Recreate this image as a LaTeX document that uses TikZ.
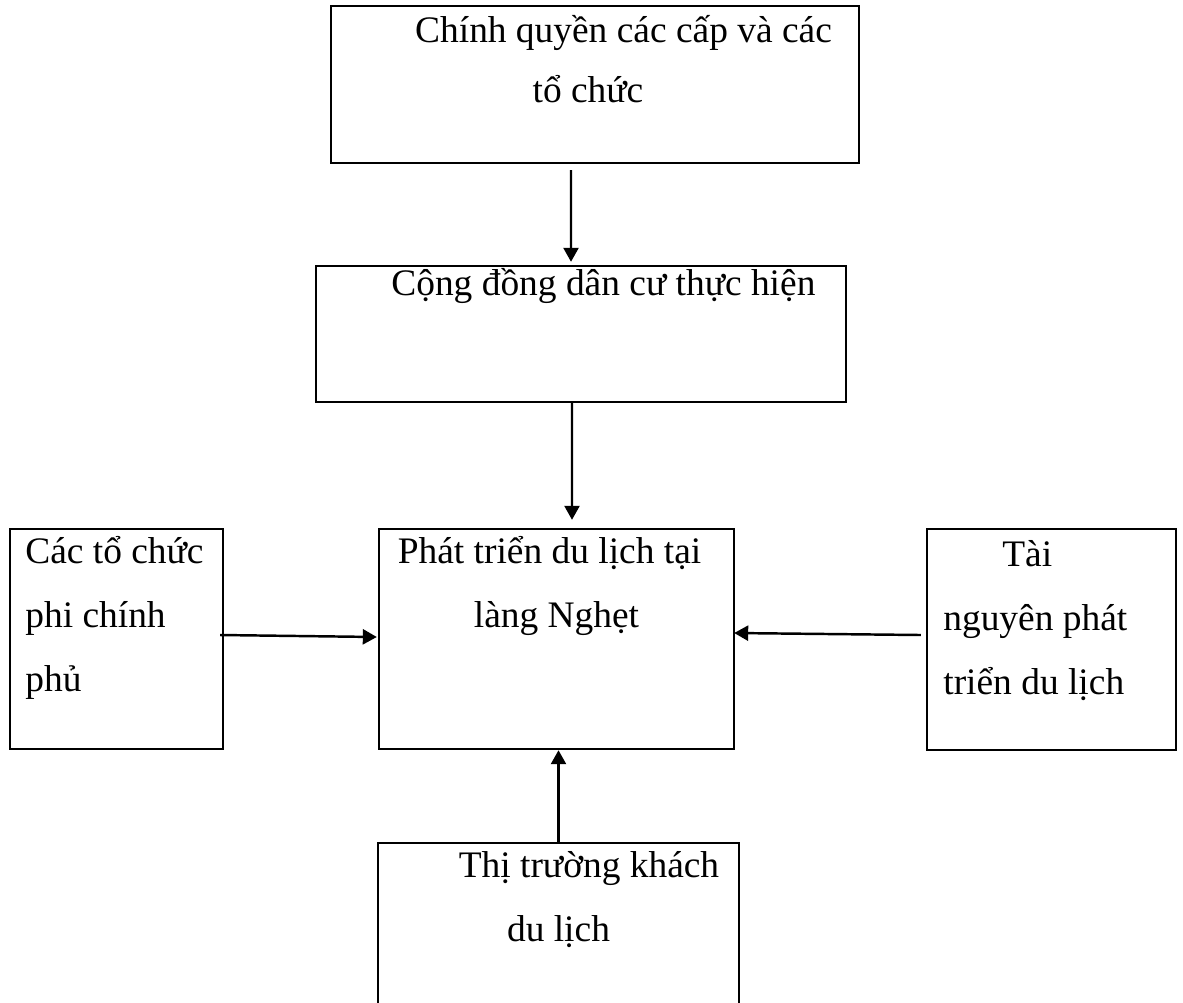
\documentclass[tikz,border=0pt]{standalone}
\usepackage{fontspec}
\setmainfont{Liberation Serif}
\usetikzlibrary{arrows.meta}

\begin{document}
\begin{tikzpicture}[x=0.02cm, y=-0.02cm,
    box/.style={draw, line width=1.4pt, inner sep=0pt},
    txt/.style={font=\fontsize{21.3pt}{36.4pt}\selectfont, inner sep=0pt},
    conn/.style={line width=1.4pt, -{Triangle[length=0.28cm, width=0.30cm]}}]

% --- page size (pixels of the reference) ---
\useasboundingbox (0,0) rectangle (1183,1002);
\clip (0,0) rectangle (1183,1002);

% --- boxes ---
\node[box, minimum width=10.56cm, minimum height=3.14cm] (gov)  at (595,84.5)    {};
\node[box, minimum width=10.60cm, minimum height=2.72cm] (comm) at (581,334)     {};
\node[box, minimum width=7.10cm,  minimum height=4.40cm] (dev)  at (556.5,639)   {};
\node[box, minimum width=4.26cm,  minimum height=4.40cm] (ngo)  at (116.5,639)   {};
\node[box, minimum width=4.98cm,  minimum height=4.42cm] (res)  at (1051.5,639.5) {};
\node[box, minimum width=7.22cm,  minimum height=3.38cm] (mkt)  at (558.5,927.5) {};

% --- box texts (base = baseline of the last line) ---
\node[txt, anchor=base, align=center] (gov-text) at (588,102)
    {\hspace*{1.42cm}Chính quyền các cấp và các\\[-2.3pt] tổ chức};
\node[txt, anchor=base west] (comm-text) at (391,295)
    {Cộng đồng dân cư thực hiện};
\node[txt, anchor=base, align=center] (dev-text) at (556.5,627)
    {Phát triển du lịch tại\hspace*{0.28cm}\\ làng Nghẹt};
\node[txt, anchor=base west, align=left] (ngo-text) at (25,691.5)
    {Các tổ chức\\ phi chính\\ phủ};
\node[txt, anchor=base west, align=left] (res-text) at (943,694)
    {\hspace*{1.18cm}Tài\\ nguyên phát\\ triển du lịch};
\node[txt, anchor=base, align=center] (mkt-text) at (558.5,941)
    {\hspace*{1.22cm}Thị trường khách\\ du lịch};

% --- connectors ---
\draw[conn] ([xshift=-0.48cm, yshift=-0.12cm]gov.south)
    -- ([xshift=-0.20cm, yshift=0.06cm]comm.north);
\draw[conn] ([xshift=-0.18cm]comm.south)
    -- ([xshift=0.31cm, yshift=0.16cm]dev.north);
\draw[conn] ([xshift=-0.08cm, yshift=0.08cm]ngo.east)
    -- ([xshift=-0.02cm, yshift=0.04cm]dev.west);
\draw[conn] ([xshift=-0.10cm, yshift=0.09cm]res.west)
    -- ([xshift=-0.02cm, yshift=0.12cm]dev.east);
\draw[conn] (mkt.north) -- (mkt.north |- dev.south);

\end{tikzpicture}
\end{document}
